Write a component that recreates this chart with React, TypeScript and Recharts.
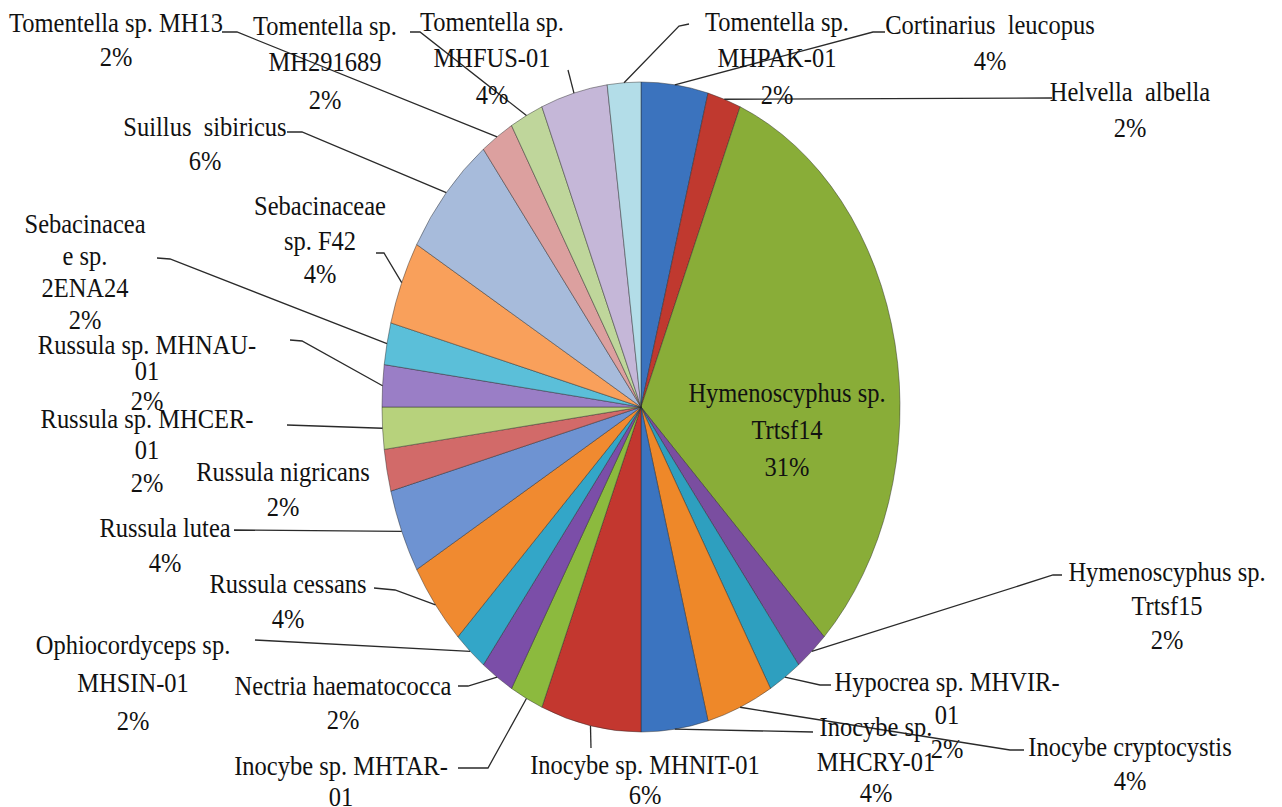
import React from "react";
import { PieChart, Pie, Cell } from "recharts";

// ---- data ----
const categories: string[] = [
  "Cortinarius  leucopus",
  "Helvella  albella",
  "Hymenoscyphus sp.\nTrtsf14",
  "Hymenoscyphus sp.\nTrtsf15",
  "Hypocrea sp. MHVIR-\n01",
  "Inocybe cryptocystis",
  "Inocybe sp.\nMHCRY-01",
  "Inocybe sp. MHNIT-01",
  "Inocybe sp. MHTAR-\n01",
  "Nectria haematococca",
  "Ophiocordyceps sp.\nMHSIN-01",
  "Russula cessans",
  "Russula lutea",
  "Russula nigricans",
  "Russula sp. MHCER-\n01",
  "Russula sp. MHNAU-\n01",
  "Sebacinacea\ne sp.\n2ENA24",
  "Sebacinaceae\nsp. F42",
  "Suillus  sibiricus",
  "Tomentella sp. MH13",
  "Tomentella sp.\nMH291689",
  "Tomentella sp.\nMHFUS-01",
  "Tomentella sp.\nMHPAK-01",
];

const counts: number[] = [2, 1, 15, 1, 1, 2, 2, 3, 1, 1, 1, 2, 2, 1, 1, 1, 1, 2, 3, 1, 1, 2, 1];

const sliceColors: string[] = [
  "#3B73BE", "#C0392F", "#89AD38", "#7A4EA0", "#2E9FBF", "#EE8829",
  "#3B74C0", "#C3372F", "#8CBA3E", "#7B4EA8", "#33A6C8", "#F08A30",
  "#6E93D2", "#D26A69", "#B7D27C", "#9A7EC6", "#5BBFD9", "#F9A05B",
  "#A7BBDB", "#DCA09F", "#BFD69B", "#C5B7D8", "#B3DDE8",
];

// ---- layout of the (manually placed) data labels ----
type LabelPos = { x: number; ys: number[]; leader: [number, number][] };
const labelLayout: LabelPos[] = [
  { x: 990, ys: [25, 61], leader: [[873, 32], [885, 32]] },
  { x: 1130, ys: [92, 128], leader: [[1052, 98]] },
  { x: 787, ys: [393, 430, 467], leader: [] },
  { x: 1167, ys: [572, 606, 640], leader: [[1053, 575], [1062, 575]] },
  { x: 947, ys: [682, 715, 749], leader: [[820, 685], [831, 685]] },
  { x: 1130, ys: [747, 781], leader: [[1010, 750], [1024, 750]] },
  { x: 876, ys: [727, 762, 793], leader: [[813, 732]] },
  { x: 645, ys: [765, 795], leader: [[591, 748]] },
  { x: 341, ys: [766, 797, 832], leader: [[488, 768], [458, 768]] },
  { x: 343, ys: [686, 720], leader: [[468, 686], [458, 686]] },
  { x: 133, ys: [645, 683, 721], leader: [[255, 640]] },
  { x: 288, ys: [584, 619], leader: [[395, 590], [374, 588]] },
  { x: 165, ys: [528, 563], leader: [[234, 530]] },
  { x: 283, ys: [472, 507], leader: [] },
  { x: 147, ys: [419, 450, 483], leader: [[287, 425]] },
  { x: 147, ys: [345, 371, 401], leader: [[302, 341], [290, 340]] },
  { x: 85, ys: [224, 256, 288, 320], leader: [[170, 259], [157, 258]] },
  { x: 320, ys: [206, 241, 274], leader: [[384, 253], [376, 253]] },
  { x: 205, ys: [127, 161], leader: [[302, 132], [287, 132]] },
  { x: 116, ys: [23, 57], leader: [[237, 32], [222, 32]] },
  { x: 325, ys: [26, 62, 100], leader: [[420, 32], [410, 32]] },
  { x: 492, ys: [22, 58, 95], leader: [[568, 70]] },
  { x: 777, ys: [22, 58, 95], leader: [[679, 26], [689, 24]] },
];

const data = categories.map((name, i) => ({ name, value: counts[i] }));

const RATIO = 325 / 259; // vertical stretch of the (elliptical) pie
const RAD = Math.PI / 180;
const FONT = '"Liberation Serif", "Times New Roman", "DejaVu Serif", serif';

function ellipsePoint(cx: number, cy: number, r: number, angle: number): [number, number] {
  return [cx + r * Math.cos(angle * RAD), cy - r * RATIO * Math.sin(angle * RAD)];
}

function EllipseSector(props: any) {
  const { cx, cy, outerRadius, startAngle, endAngle, fill } = props;
  const [x1, y1] = ellipsePoint(cx, cy, outerRadius, startAngle);
  const [x2, y2] = ellipsePoint(cx, cy, outerRadius, endAngle);
  const large = Math.abs(startAngle - endAngle) > 180 ? 1 : 0;
  const sweep = startAngle > endAngle ? 1 : 0;
  const d = `M ${cx} ${cy} L ${x1} ${y1} A ${outerRadius} ${outerRadius * RATIO} 0 ${large} ${sweep} ${x2} ${y2} Z`;
  return <path d={d} fill={fill} stroke="rgba(40,40,40,0.45)" strokeWidth={1} />;
}

function renderLabel(props: any) {
  const { cx, cy, outerRadius, midAngle, index, percent, name } = props;
  const layout = labelLayout[index];
  if (!layout) return null;
  const lines = String(name).split("\n").concat(`${Math.round(percent * 100)}%`);
  const start = ellipsePoint(cx, cy, outerRadius, midAngle);
  const pts = layout.leader.length ? [start, ...layout.leader] : [];
  return (
    <g key={`lbl-${index}`}>
      {pts.length > 0 && (
        <polyline
          points={pts.map((p) => `${p[0]},${p[1]}`).join(" ")}
          fill="none"
          stroke="#2a2a2a"
          strokeWidth={1.3}
        />
      )}
      {lines.map((t, j) => (
        <text
          key={j}
          transform={`translate(${layout.x},${layout.ys[j]}) scale(1,1.08)`}
          x={0}
          y={0}
          textAnchor="middle"
          dominantBaseline="central"
          fill="#111"
          style={{ whiteSpace: "pre", fontFamily: FONT, fontSize: 24.5 }}
        >
          {t}
        </text>
      ))}
    </g>
  );
}

export default function App() {
  return (
    <div style={{ position: "absolute", left: 0, top: 0, width: 1282, height: 807, background: "#fff" }}>
      <PieChart width={1282} height={807} margin={{ top: 0, right: 0, bottom: 0, left: 0 }}>
        <Pie
          data={data}
          dataKey="value"
          nameKey="name"
          cx={641}
          cy={407}
          outerRadius={259}
          startAngle={90}
          endAngle={-270}
          isAnimationActive={false}
          labelLine={false}
          label={renderLabel}
          shape={EllipseSector}
          activeShape={EllipseSector}
          inactiveShape={EllipseSector}
          stroke="none"
        >
          {data.map((d, i) => (
            <Cell key={d.name} fill={sliceColors[i]} />
          ))}
        </Pie>
      </PieChart>
    </div>
  );
}
